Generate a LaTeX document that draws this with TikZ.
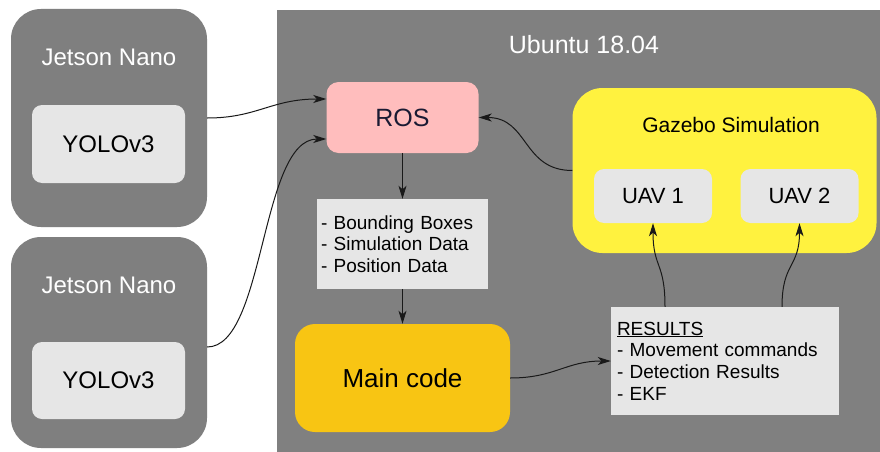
\documentclass[tikz,border=0pt]{standalone}
\usepackage{fontspec}
\setmainfont{Liberation Sans}
\usetikzlibrary{arrows.meta}
\definecolor{ubgray}{HTML}{808080}
\definecolor{jgray}{HTML}{7F7F7F}
\definecolor{lgray}{HTML}{E6E6E6}
\definecolor{rospink}{HTML}{FFBDBD}
\definecolor{gazyellow}{HTML}{FFF23F}
\definecolor{mainorange}{HTML}{F8C513}
\definecolor{navy}{HTML}{1A1A33}
\begin{document}
\begin{tikzpicture}[x=1pt,y=-1pt,
  darkbox/.style={fill=jgray, draw=none, rounded corners=30pt, inner sep=0pt},
  lightbox/.style={fill=lgray, draw=none, rounded corners=10pt, inner sep=0pt},
  whitetitle/.style={text=white, font=\fontsize{24}{28}\selectfont, inner sep=0pt},
  bigtext/.style={font=\fontsize{24}{28}\selectfont},
  listbox/.style={fill=lgray, draw=none, align=left, font=\fontsize{19}{21.7}\selectfont},
  conn/.style={line width=1pt, draw=black!90, -{Stealth[length=13pt,width=8pt,inset=3.5pt]}}
]
\useasboundingbox (0,0) rectangle (880,452);
\fill[white] (0,0) rectangle (880,452);

% Ubuntu area
\node[fill=ubgray, draw=none, inner sep=0pt, minimum width=603pt, minimum height=460pt, anchor=north west] (ubuntu) at (277,9.5) {};
\node[whitetitle, font=\fontsize{25}{29}\selectfont] (ubtitle) at (584,45) {Ubuntu 18.04};

% Jetson boxes
\node[darkbox, minimum width=196pt, minimum height=218pt] (jet1) at (109,118) {};
\node[darkbox, minimum width=196pt, minimum height=211pt] (jet2) at (109,342.5) {};
\node[whitetitle] (jt1) at (109,57) {Jetson Nano};
\node[whitetitle] (jt2) at (109,285) {Jetson Nano};
\node[lightbox, bigtext, minimum width=153pt, minimum height=78pt] (yolo1) at (108.5,144) {YOLOv3};
\node[lightbox, bigtext, minimum width=153pt, minimum height=77pt] (yolo2) at (108.5,380.5) {YOLOv3};

% ROS
\node[fill=rospink, draw=none, rounded corners=12pt, inner sep=0pt, minimum width=152pt, minimum height=71pt, text=navy, font=\fontsize{25}{29}\selectfont] (ros) at (402.5,117.5) {ROS};

% Gazebo
\node[fill=gazyellow, draw=none, rounded corners=30pt, inner sep=0pt, minimum width=304pt, minimum height=165pt] (gaz) at (724.5,170.5) {};
\node[inner sep=0pt, font=\fontsize{21}{25}\selectfont] (gaztitle) at (731,125) {Gazebo Simulation};
\node[lightbox, font=\fontsize{22}{26}\selectfont, minimum width=118pt, minimum height=54pt] (uav1) at (653,196) {UAV 1};
\node[lightbox, font=\fontsize{22}{26}\selectfont, minimum width=118pt, minimum height=54pt] (uav2) at (799.5,196) {UAV 2};

% Data box
\node[listbox, inner sep=4pt, text width=163pt, minimum height=90pt] (data) at (402.5,244)
  {- Bounding Boxes\\- Simulation Data\\- Position Data};

% Main code
\node[fill=mainorange, draw=none, rounded corners=20pt, inner sep=0pt, minimum width=215pt, minimum height=108pt, font=\fontsize{26}{30}\selectfont] (main) at (402.5,378) {Main code};

% Results
\node[listbox, inner sep=6pt, text width=216pt, minimum height=108pt] (res) at (725,361)
  {\underline{RESULTS}\\- Movement commands\\- Detection Results\\- EKF};

% Connectors
\draw[conn] (jet1.east) .. controls +(50,0) and +(-55,0) .. ([yshift=18.5pt]ros.west);
\draw[conn] ([yshift=-4.5pt]jet2.east) .. controls +(58,0) and +(-66,0) .. ([yshift=-21.5pt]ros.west);
\draw[conn] (gaz.west) .. controls +(-50,0) and +(50,0) .. (ros.east);
\draw[conn] (ros.south) -- (data.north);
\draw[conn] (data.south) -- (main.north);
\draw[conn] (main.east) .. controls +(45,0) and +(-45,0) .. (res.west);
\draw[conn] ([xshift=-60pt]res.north) .. controls +(0,-45) and +(0,45) .. (uav1.south);
\draw[conn] ([xshift=57pt]res.north) .. controls +(0,-45) and +(0,45) .. (uav2.south);
\end{tikzpicture}
\end{document}
